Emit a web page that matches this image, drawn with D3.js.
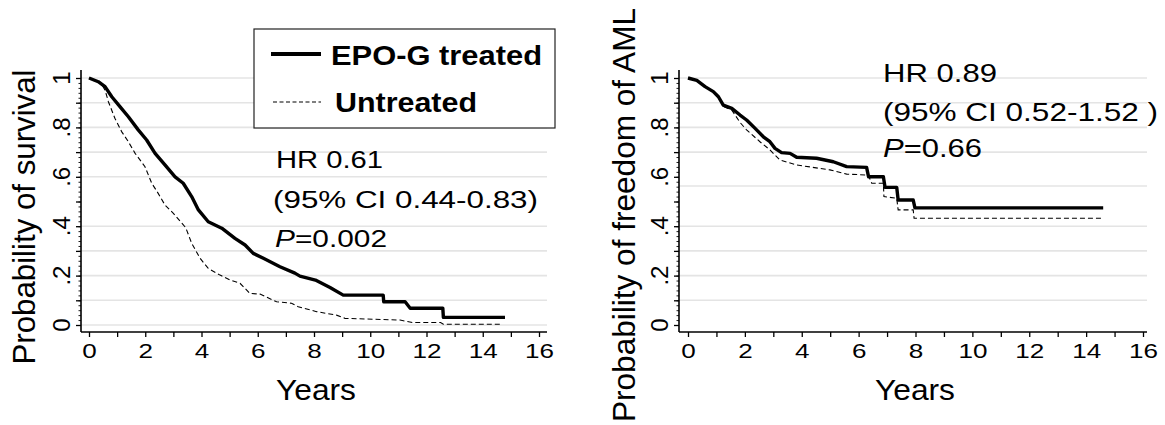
<!DOCTYPE html>
<html><head><meta charset="utf-8">
<script src="https://cdn.jsdelivr.net/npm/d3@7/dist/d3.min.js"></script>
<style>
body{margin:0;background:#fff}
svg{display:block}
text{font-family:"Liberation Sans",Arial,sans-serif;fill:#000}
</style>
</head><body>
<svg id="c" width="1165" height="425"></svg>
<script>
// ---------- data (years, probability) ----------
const survivalTreated = [[0,1],[0.33,0.985],[0.57,0.965],[0.81,0.924],[1.10,0.884],[1.40,0.843],[1.75,0.79],[2.05,0.749],[2.35,0.695],[2.70,0.648],[3.06,0.60],[3.35,0.574],[3.65,0.52],[3.89,0.466],[4.24,0.418],[4.72,0.392],[5.19,0.351],[5.55,0.324],[5.84,0.29],[6.20,0.27],[6.79,0.236],[7.32,0.21],[7.50,0.198],[8.05,0.182],[8.57,0.152],[9.04,0.121],[10.46,0.121],[10.48,0.094],[11.24,0.094],[11.42,0.068],[12.58,0.068],[12.6,0.031],[14.79,0.031]];
const survivalUntreated = [[0,1],[0.33,0.985],[0.5,0.965],[0.57,0.951],[0.69,0.904],[0.92,0.837],[1.16,0.783],[1.40,0.742],[1.64,0.695],[1.99,0.641],[2.23,0.574],[2.46,0.533],[2.70,0.486],[3.0,0.452],[3.41,0.398],[3.47,0.385],[3.65,0.331],[3.95,0.27],[4.24,0.229],[4.66,0.202],[5.01,0.182],[5.37,0.169],[5.72,0.128],[6.08,0.125],[6.67,0.094],[7.2,0.088],[7.44,0.074],[8.09,0.054],[8.80,0.040],[9.10,0.027],[11.06,0.02],[11.5,0.01],[12.5,0.01],[12.6,0.003],[14.7,0.003]];
const amlTreated = [[0,1],[0.31,0.99],[0.6,0.965],[0.89,0.945],[1.07,0.924],[1.24,0.89],[1.54,0.877],[1.83,0.85],[2.06,0.83],[2.36,0.796],[2.65,0.762],[2.88,0.742],[3.06,0.715],[3.29,0.698],[3.59,0.695],[3.82,0.679],[4.52,0.675],[5.11,0.661],[5.58,0.641],[6.28,0.638],[6.35,0.60],[6.87,0.60],[6.93,0.557],[7.34,0.557],[7.39,0.506],[7.92,0.506],[7.98,0.474],[14.6,0.474]];
const amlUntreated = [[0,1],[0.31,0.99],[0.6,0.965],[0.89,0.945],[1.07,0.924],[1.24,0.885],[1.54,0.87],[1.83,0.82],[2.06,0.79],[2.53,0.742],[2.88,0.709],[3.23,0.668],[3.82,0.648],[4.99,0.628],[5.58,0.611],[6.34,0.607],[6.46,0.574],[6.87,0.574],[6.89,0.52],[7.34,0.513],[7.39,0.466],[7.92,0.466],[7.95,0.432],[14.6,0.432]];

const xTickValues = [0,2,4,6,8,10,12,14,16];
const yTickValues = [0,0.2,0.4,0.6,0.8,1];
const yTickLabels = ["0",".2",".4",".6",".8","1"];
const gridLeft = [0,0.1,0.2,0.3,0.4,0.6,0.7,0.8,0.9,1];
const gridRight = [0.1,0.2,0.3,0.4,0.5625,0.7,0.8,0.9,1];
const legendLabels = ["EPO-G treated","Untreated"];
const statsLeft = ["HR 0.61","(95% CI 0.44-0.83)","=0.002"];
const statsRight = ["HR 0.89","(95% CI 0.52-1.52 )","=0.66"];

const svg = d3.select("#c");

function panel(cfg){
  const g = svg.append("g");
  const x = d3.scaleLinear().domain([0,16]).range([cfg.x0, cfg.x1]);
  const y = d3.scaleLinear().domain([0,1]).range([325,78]);

  // gridlines
  g.selectAll("line.grid").data(cfg.grid).enter().append("line")
    .attr("x1", cfg.axX).attr("x2", cfg.gridEnd)
    .attr("y1", d=>y(d)).attr("y2", d=>y(d))
    .attr("stroke","#e4e4e4").attr("stroke-width",1.6);

  // x axis
  const xa = g.append("g").attr("transform","translate(0,332)")
    .call(d3.axisBottom(x).tickValues(d3.range(0,17,1)).tickSize(5).tickSizeOuter(0)
      .tickFormat(d => xTickValues.includes(d) ? String(d) : ""));
  xa.select(".domain").remove();
  xa.selectAll(".tick line").attr("stroke","#000").attr("stroke-width",1.3);
  xa.selectAll(".tick text").attr("font-size",21).attr("y",11).attr("dy","0.71em")
    .attr("font-family","Liberation Sans, Arial, sans-serif")
    .each(function(){ const t=this.textContent; if(t) d3.select(this).attr("textLength",14.5*t.length).attr("lengthAdjust","spacingAndGlyphs"); });
  g.append("line").attr("x1",cfg.axX).attr("x2",cfg.gridEnd).attr("y1",332).attr("y2",332)
    .attr("stroke","#000").attr("stroke-width",1.6);

  // y axis minor ticks
  const ym = g.append("g").attr("transform",`translate(${cfg.axX},0)`)
    .call(d3.axisLeft(y).tickValues(d3.range(0,1.0001,0.02)).tickSize(2.5).tickFormat(""));
  ym.select(".domain").remove();
  ym.selectAll(".tick line").attr("stroke","#000").attr("stroke-width",0.9);
  const yM = g.append("g").attr("transform",`translate(${cfg.axX},0)`)
    .call(d3.axisLeft(y).tickValues(d3.range(0,1.0001,0.1)).tickSize(5).tickFormat(""));
  yM.select(".domain").remove();
  yM.selectAll(".tick line").attr("stroke","#000").attr("stroke-width",1.3);
  g.append("line").attr("x1",cfg.axX).attr("x2",cfg.axX).attr("y1",70).attr("y2",332)
    .attr("stroke","#000").attr("stroke-width",1.6);

  // y tick labels (rotated)
  g.selectAll("text.ytl").data(yTickValues).enter().append("text")
    .attr("transform", d=>`translate(${cfg.axX-11},${y(d)}) rotate(-90)`)
    .attr("text-anchor","middle").attr("font-size",24)
    .text((d,i)=>yTickLabels[i]);

  // axis titles
  g.append("text").attr("x",(cfg.axX+cfg.gridEnd)/2+2).attr("y",400)
    .attr("text-anchor","middle").attr("font-size",29)
    .attr("textLength",80).attr("lengthAdjust","spacingAndGlyphs").text("Years");
  g.append("text").attr("transform",`translate(${cfg.yTitleX},${cfg.yTitleY}) rotate(-90)`)
    .attr("text-anchor","middle").attr("font-size",31)
    .attr("textLength",cfg.yTitleLen).attr("lengthAdjust","spacingAndGlyphs").text(cfg.yTitle);

  // curves
  const line = d3.line().x(d=>x(d[0])).y(d=>y(d[1]));
  g.append("path").datum(cfg.untreated).attr("d",line).attr("fill","none")
    .attr("stroke","#000").attr("stroke-width",1.1).attr("stroke-dasharray","5,3");
  g.append("path").datum(cfg.treated).attr("d",line).attr("fill","none")
    .attr("stroke","#000").attr("stroke-width",3.4).attr("stroke-linejoin","round");

  // stats text
  cfg.stats.forEach((s,i)=>{
    const t = g.append("text").attr("x",cfg.statX[i]).attr("y",cfg.statY[i])
      .attr("font-size",cfg.statSize)
      .attr("textLength",cfg.statLen[i]).attr("lengthAdjust","spacingAndGlyphs");
    if(i===2){
      t.append("tspan").attr("font-style","italic").text("P");
      t.append("tspan").text(s);
    } else t.text(s);
  });
  return {x,y};
}

panel({x0:89,x1:539,axX:81,gridEnd:547,grid:gridLeft,
  yTitle:"Probability of survival",yTitleX:35,yTitleY:217,yTitleLen:295,
  treated:survivalTreated,untreated:survivalUntreated,
  stats:statsLeft,statX:[276,273,275],statY:[168,208,247],statSize:23,statLen:[107,265,112]});

panel({x0:688,x1:1143,axX:679,gridEnd:1147,grid:gridRight,
  yTitle:"Probability of freedom of AML",yTitleX:635,yTitleY:215,yTitleLen:414,
  treated:amlTreated,untreated:amlUntreated,
  stats:statsRight,statX:[883,883,883],statY:[82,121,157],statSize:25,statLen:[114,275,99]});

// legend
const lg = svg.append("g");
lg.append("rect").attr("x",254).attr("y",29).attr("width",301).attr("height",99)
  .attr("fill","#fff").attr("stroke","#222").attr("stroke-width",1.2);
lg.append("line").attr("x1",271).attr("x2",321).attr("y1",54).attr("y2",54)
  .attr("stroke","#000").attr("stroke-width",4);
lg.append("line").attr("x1",273).attr("x2",321).attr("y1",102).attr("y2",102)
  .attr("stroke","#000").attr("stroke-width",1.1).attr("stroke-dasharray","4,2.5");
lg.append("text").attr("x",331).attr("y",65).attr("font-size",28).attr("font-weight","bold")
  .attr("textLength",211).attr("lengthAdjust","spacingAndGlyphs").text(legendLabels[0]);
lg.append("text").attr("x",335).attr("y",112).attr("font-size",28).attr("font-weight","bold")
  .attr("textLength",142).attr("lengthAdjust","spacingAndGlyphs").text(legendLabels[1]);
</script>
</body></html>
